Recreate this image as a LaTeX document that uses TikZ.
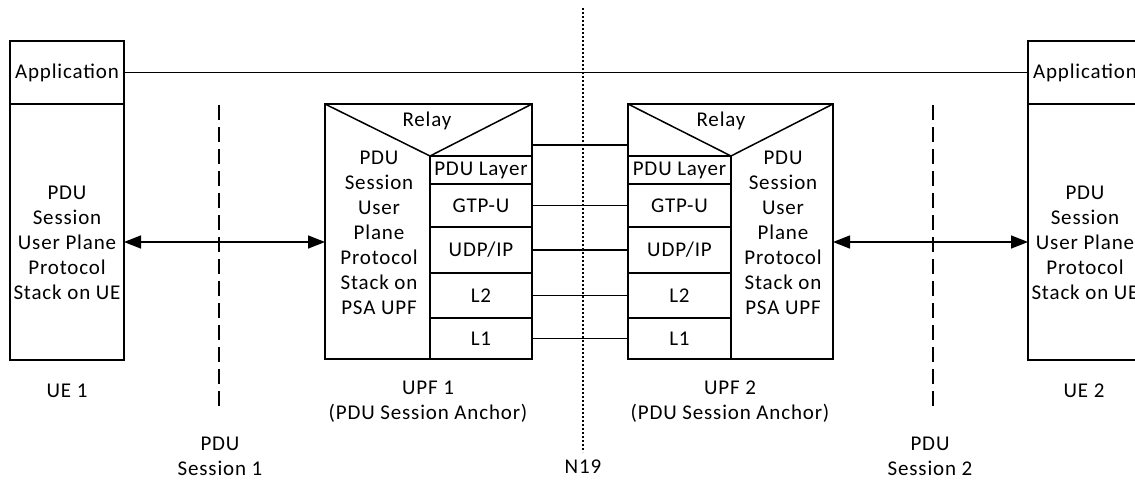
\documentclass[tikz,border=0pt]{standalone}
\usepackage{fontspec}
\setmainfont[LetterSpace=4.0]{Carlito}
\usetikzlibrary{arrows.meta}
\begin{document}
\begin{tikzpicture}[x=1pt,y=-1pt,
  every node/.style={font=\fontsize{21}{25}\selectfont},
  frame/.style={draw, line width=1.5pt, inner sep=0pt, outer sep=0pt},
  txt/.style={align=center, inner sep=0pt},
  link/.style={line width=1.5pt},
  dbl/.style={line width=1.5pt, {Triangle[length=17pt,width=13pt]}-{Triangle[length=17pt,width=13pt]}},
  sep/.style={line width=1.5pt, dash pattern=on 15pt off 7pt},
  dots/.style={line width=1.3pt, dash pattern=on 2pt off 2pt}]
\clip (0,0) rectangle (1135,482);
% UE 1
\node[frame, minimum width=114pt, minimum height=63pt] (ue1app) at (67,72.5) {Application};
\node[frame, minimum width=114pt, minimum height=256pt] (ue1st) at (67,232) {};
\node[txt] (ue1txt) at (67,243) {PDU\\Session\\User Plane\\Protocol\\Stack on UE};
\node[txt] (ue1lbl) at (67,391) {UE 1};
% UE 2
\node[frame, minimum width=114pt, minimum height=63pt] (ue2app) at (1085,72.5) {Application};
\node[frame, minimum width=114pt, minimum height=256pt] (ue2st) at (1085,232) {};
\node[txt] (ue2txt) at (1085,243) {PDU\\Session\\User Plane\\Protocol\\Stack on UE};
\node[txt] (ue2lbl) at (1084,391) {UE 2};
% Application line
\draw[link] (ue1app.east) -- (ue2app.west);
% UPF 1
\node[frame, minimum width=207pt, minimum height=255pt] (upf1) at (428.5,231.5) {};
\node[frame, minimum width=102pt, minimum height=28pt] (u1pdu) at (481,170) {PDU Layer};
\node[frame, minimum width=102pt, minimum height=43pt] (u1gtp) at (481,205.5) {GTP-U};
\node[frame, minimum width=102pt, minimum height=46pt] (u1udp) at (481,250) {UDP/IP};
\node[frame, minimum width=102pt, minimum height=45pt] (u1l2) at (481,295.5) {L2};
\node[frame, minimum width=102pt, minimum height=41pt] (u1l1) at (481,338.5) {L1};
\draw[line width=1.5pt] (upf1.north west) -- (u1pdu.north west) -- (upf1.north east);
\node[txt] (u1relay) at (427,121) {Relay};
\node[txt] (u1txt) at (379,233) {PDU\\Session\\User\\Plane\\Protocol\\Stack on\\PSA UPF};
\node[txt] (u1lbl) at (428,402) {UPF 1\\(PDU Session Anchor)};
% UPF 2
\node[frame, minimum width=205pt, minimum height=255pt] (upf2) at (730.5,231.5) {};
\node[frame, minimum width=103pt, minimum height=28pt] (u2pdu) at (679.5,170) {PDU Layer};
\node[frame, minimum width=103pt, minimum height=43pt] (u2gtp) at (679.5,205.5) {GTP-U};
\node[frame, minimum width=103pt, minimum height=46pt] (u2udp) at (679.5,250) {UDP/IP};
\node[frame, minimum width=103pt, minimum height=45pt] (u2l2) at (679.5,295.5) {L2};
\node[frame, minimum width=103pt, minimum height=41pt] (u2l1) at (679.5,338.5) {L1};
\draw[line width=1.5pt] (upf2.north west) -- (u2pdu.north east) -- (upf2.north east);
\node[txt] (u2relay) at (721,121) {Relay};
\node[txt] (u2txt) at (783,233) {PDU\\Session\\User\\Plane\\Protocol\\Stack on\\PSA UPF};
\node[txt] (u2lbl) at (730,402) {UPF 2\\(PDU Session Anchor)};
% N19 links
\draw[link] (upf1.east |- 0,145) -- (upf2.west |- 0,145);
\draw[link] (u1gtp.east) -- (u2gtp.west);
\draw[link] (u1udp.east) -- (u2udp.west);
\draw[link] (u1l2.east) -- (u2l2.west);
\draw[link] (u1l1.east) -- (u2l1.west);
% arrows
\draw[dbl] (ue1st.east |- 0,242) -- (upf1.west |- 0,242);
\draw[dbl] (upf2.east |- 0,242) -- (ue2st.west |- 0,242);
% separators
\coordinate (s1t) at (219,105); \coordinate (s1b) at (219,412);
\draw[sep] (s1t) -- (s1b);
\node[txt] (s1lbl) at (220,456) {PDU\\Session 1};
\coordinate (s2t) at (933,105); \coordinate (s2b) at (933,412);
\draw[sep] (s2t) -- (s2b);
\node[txt] (s2lbl) at (930,456) {PDU\\Session 2};
\coordinate (nt) at (583,8); \coordinate (nb) at (583,452);
\draw[dots] (nt) -- (nb);
\node[txt] (n19) at (583,467) {N19};
\end{tikzpicture}
\end{document}
